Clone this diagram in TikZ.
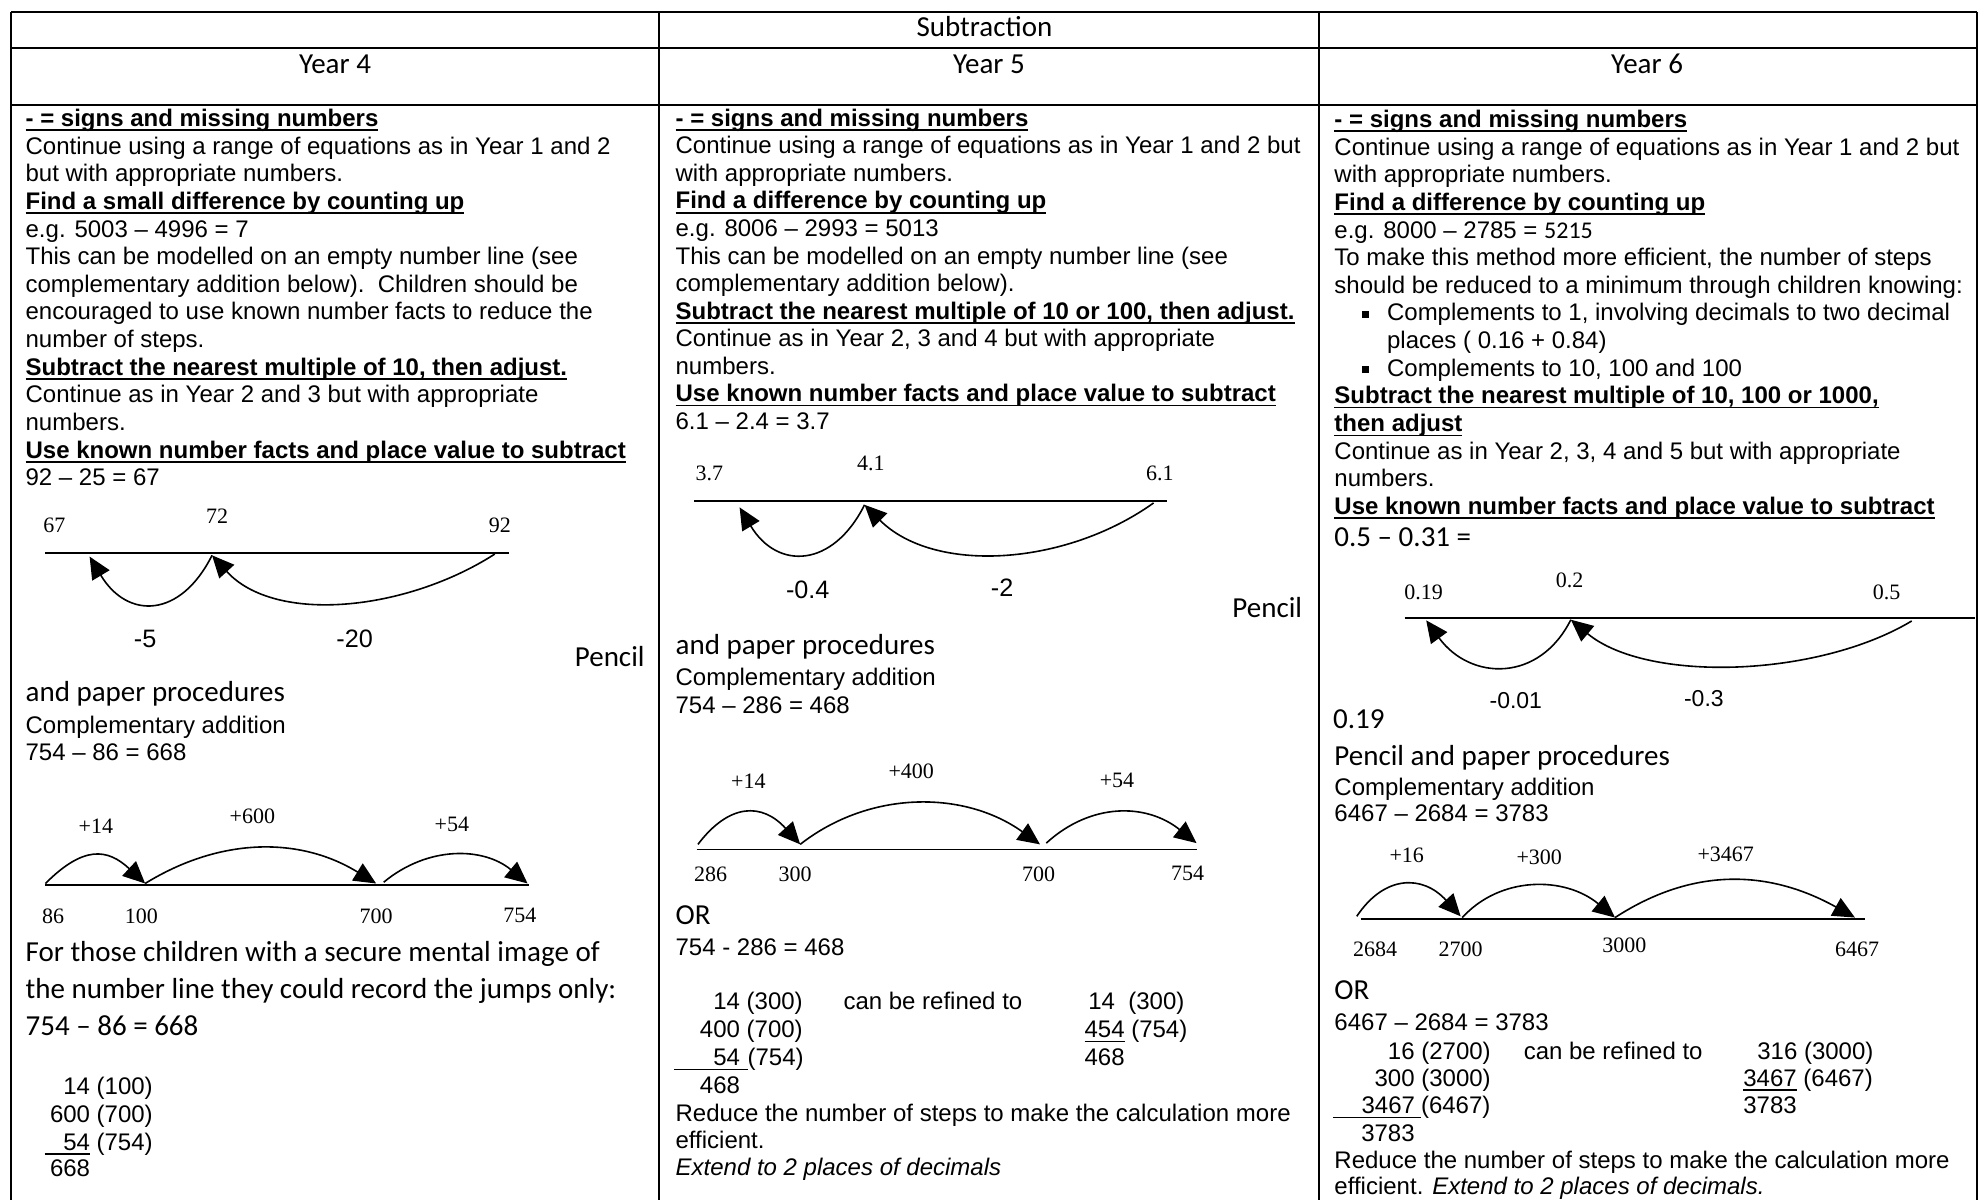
\documentclass[tikz,border=0pt]{standalone}
\usepackage{fontspec}
\setmainfont{Liberation Sans}
\newfontfamily\calfont{Carlito}
\newfontfamily\tmsfont{Liberation Serif}
\usetikzlibrary{arrows.meta}
\newsavebox{\hdbox}
\newcommand{\hd}[1]{\sbox{\hdbox}{\bfseries #1}\rlap{\rule[-2.3pt]{\wd\hdbox}{0.8pt}}\usebox{\hdbox}}
\newcommand{\ul}[1]{\sbox{\hdbox}{#1}\rlap{\rule[-2.3pt]{\wd\hdbox}{0.7pt}}\usebox{\hdbox}}
\newcommand{\sqbul}{\makebox[12.4pt][l]{\rule[1.6pt]{3.6pt}{3.6pt}}}
\tikzset{
  tabline/.style={line width=1pt},
  nline/.style={line width=0.8pt},
  hop/.style={line width=0.8pt, -{Triangle[length=11pt,width=10pt]}},
  txt/.style={inner sep=0pt, anchor=mid west, font=\fontsize{12}{14}\selectfont},
  cal/.style={inner sep=0pt, anchor=mid west, font=\calfont\fontsize{14.5}{17}\selectfont},
  head/.style={inner sep=0pt, anchor=mid, font=\calfont\fontsize{14.5}{17}\selectfont},
  num/.style={inner sep=0pt, font=\tmsfont\fontsize{11}{13}\selectfont},
  jmp/.style={inner sep=0pt, font=\fontsize{12.6}{14}\selectfont},
  jmpsm/.style={inner sep=0pt, font=\fontsize{11.5}{13}\selectfont}
}
\begin{document}
\begin{tikzpicture}[x=0.631pt,y=-0.631pt]
\useasboundingbox (0,0) rectangle (1568,950.8);
% table
\draw[tabline] (9,9.5)--(1566.5,9.5) (9,38)--(1566.5,38) (9,83)--(1566.5,83);
\foreach \x in {9,522,1045,1566.5}
  \draw[tabline] (\x,9.5)--(\x,950.8);
\node[head] (title) at (780,25) {Subtraction};
\node[head] (hiv) at (265.5,54) {Year 4};
\node[head] (hv) at (783.5,54) {Year 5};
\node[head] (hvi) at (1305,54) {Year 6};

% Year 4
\foreach \t [count=\i from 0] in {
  {\hd{- = signs and missing numbers}},
  {Continue using a range of equations as in Year 1 and 2},
  {but with appropriate numbers.},
  {\hd{Find a small difference by counting up}},
  {e.g. 5003 – 4996 = 7},
  {This can be modelled on an empty number line (see},
  {complementary addition below).\ \ Children should be},
  {encouraged to use known number facts to reduce the},
  {number of steps.},
  {\hd{Subtract the nearest multiple of 10, then adjust.}},
  {Continue as in Year 2 and 3 but with appropriate},
  {numbers.},
  {\hd{Use known number facts and place value to subtract}},
  {92 – 25 = 67}}
  \node[txt] (ivT\i) at (20,{96+21.9*\i}) {\t};
\coordinate (ivAl) at (36,438);
\coordinate (ivAr) at (403,438);
\draw[nline] (ivAl)--(ivAr);
\coordinate (ivA92) at (392,439);
\coordinate (ivA72) at (168,440);
\coordinate (ivA67) at (71,441);
\draw[hop] (ivA92) .. controls +(-70,45) and +(50,55) .. (ivA72);
\draw[hop] (ivA72) .. controls +(-25,50) and +(30,50) .. (ivA67);
\node[num] (ivL67) at (43,416) {67};
\node[num] (ivL72) at (172,409) {72};
\node[num] (ivL92) at (396,416) {92};
\node[jmp] (ivM5) at (115,506) {-5};
\node[jmp] (ivM20) at (281,506) {-20};
\node[cal, anchor=mid east] (ivPen) at (511,524) {Pencil};
\node[cal] (ivPap) at (20,552) {and paper procedures};
\node[txt] (ivComp) at (20,577) {Complementary addition};
\node[txt] (ivEq) at (20,598) {754 – 86 = 668};
\coordinate (ivBl) at (36,701);
\coordinate (ivBr) at (419,701);
\draw[nline] (ivBl)--(ivBr);
\coordinate (ivB86) at (36,700);
\coordinate (ivB100) at (115,700);
\coordinate (ivB700) at (298,700);
\coordinate (ivB700s) at (304,699);
\coordinate (ivB754) at (418,700);
\draw[hop] (ivB86) .. controls +(30,-30) and +(-30,-28) .. (ivB100);
\draw[hop] (ivB100) .. controls +(60,-37) and +(-60,-37) .. (ivB700);
\draw[hop] (ivB700s) .. controls +(35,-29) and +(-35,-29) .. (ivB754);
\node[num] (ivP14) at (76,655) {+14};
\node[num] (ivP600) at (200,647) {+600};
\node[num] (ivP54) at (358,653) {+54};
\node[num] (ivL86) at (42,726) {86};
\node[num] (ivL100) at (112,726) {100};
\node[num] (ivL700) at (298,726) {700};
\node[num] (ivL754) at (412,725) {754};
\node[cal] (ivFor1) at (20,758) {For those children with a secure mental image of};
\node[cal] (ivFor2) at (20,787) {the number line they could record the jumps only:};
\node[cal] (ivFor3) at (20,816) {754 – 86 = 668};
\node[txt] (ivJ1) at (20,863) {\makebox[32.2pt][r]{14} (100)};
\node[txt] (ivJ2) at (20,885) {\makebox[32.2pt][r]{600} (700)};
\node[txt] (ivJ3) at (35,907) {\ul{\makebox[22.7pt][r]{54}} (754)};
\node[txt] (ivJ4) at (20,928) {\makebox[32.2pt][r]{668}};

% Year 5
\foreach \t [count=\i from 0] in {
  {\hd{- = signs and missing numbers}},
  {Continue using a range of equations as in Year 1 and 2 but},
  {with appropriate numbers.},
  {\hd{Find a difference by counting up}},
  {e.g. 8006 – 2993 = 5013},
  {This can be modelled on an empty number line (see},
  {complementary addition below).},
  {\hd{Subtract the nearest multiple of 10 or 100, then adjust.}},
  {Continue as in Year 2, 3 and 4 but with appropriate},
  {numbers.},
  {\hd{Use known number facts and place value to subtract}},
  {6.1 – 2.4 = 3.7}}
  \node[txt] (vT\i) at (535,{96+21.8*\i}) {\t};
\coordinate (vAl) at (550,397);
\coordinate (vAr) at (925,397);
\draw[nline] (vAl)--(vAr);
\coordinate (vA61) at (914,398.5);
\coordinate (vA41) at (685,400);
\coordinate (vA37) at (586,402);
\draw[hop] (vA61) .. controls +(-70,50) and +(55,55) .. (vA41);
\draw[hop] (vA41) .. controls +(-25,50) and +(30,50) .. (vA37);
\node[num] (vL37) at (562,375) {3.7};
\node[num] (vL41) at (690,367) {4.1};
\node[num] (vL61) at (919,375) {6.1};
\node[jmp] (vM04) at (640,467) {-0.4};
\node[jmp] (vM2) at (794,466) {-2};
\node[cal, anchor=mid east] (vPen) at (1032,485) {Pencil};
\node[cal] (vPap) at (535,514) {and paper procedures};
\node[txt] (vComp) at (535,539) {Complementary addition};
\node[txt] (vEq) at (535,561) {754 – 286 = 468};
\coordinate (vBl) at (552,673);
\coordinate (vBr) at (948.5,673);
\draw[nline] (vBl)--(vBr);
\coordinate (vB286) at (553,669);
\coordinate (vB300) at (634,669);
\coordinate (vB700) at (824,669);
\coordinate (vB700s) at (829,668);
\coordinate (vB754) at (948,668);
\draw[hop] (vB286) .. controls +(25,-33) and +(-30,-33) .. (vB300);
\draw[hop] (vB300) .. controls +(55,-43) and +(-60,-43) .. (vB700);
\draw[hop] (vB700s) .. controls +(35,-32) and +(-40,-32) .. (vB754);
\node[num] (vP14) at (593,619) {+14};
\node[num] (vP400) at (722,611) {+400};
\node[num] (vP54) at (885,618) {+54};
\node[num] (vL286) at (563,693) {286};
\node[num] (vL300) at (630,693) {300};
\node[num] (vL700) at (823,693) {700};
\node[num] (vL754) at (941,692) {754};
\node[cal] (vOr) at (535,728) {OR};
\node[txt] (vEq2) at (535,753) {754 - 286 = 468};
\node[txt] (vJ1) at (535,796) {\makebox[32.2pt][r]{14} (300)};
\node[txt] (vJ2) at (535,818) {\makebox[32.2pt][r]{400} (700)};
\node[txt] (vJ3) at (534,840) {\ul{\makebox[36.6pt][r]{54\hspace{3.8pt}}}(754)};
\node[txt] (vJ4) at (535,862) {\makebox[32.2pt][r]{468}};
\node[txt] (vRef) at (668,796) {can be refined to};
\node[txt] (vK1) at (862,796) {14\ \ (300)};
\node[txt] (vK2) at (859,818) {\ul{454} (754)};
\node[txt] (vK3) at (859,840) {468};
\node[txt] (vRed1) at (535,884) {Reduce the number of steps to make the calculation more};
\node[txt] (vRed2) at (535,906) {efficient.};
\node[txt] (vExt) at (535,927) {\textit{Extend to 2 places of decimals}};

% Year 6
\foreach \t [count=\i from 0] in {
  {\hd{- = signs and missing numbers}},
  {Continue using a range of equations as in Year 1 and 2 but},
  {with appropriate numbers.},
  {\hd{Find a difference by counting up}},
  {e.g. 8000 – 2785 = {\calfont 5215}},
  {To make this method more efficient, the number of steps},
  {should be reduced to a minimum through children knowing:},
  {\hspace{13.9pt}\sqbul Complements to 1, involving decimals to two decimal},
  {\hspace{26.3pt}places ( 0.16 + 0.84)},
  {\hspace{13.9pt}\sqbul Complements to 10, 100 and 100},
  {\hd{Subtract the nearest multiple of 10, 100 or 1000,}},
  {\hd{then adjust}},
  {Continue as in Year 2, 3, 4 and 5 but with appropriate},
  {numbers.},
  {\hd{Use known number facts and place value to subtract}}}
  \node[txt] (viT\i) at (1057,{96.8+21.9*\i}) {\t};
\node[cal] (viEq0) at (1057,429) {0.5 – 0.31 =};
\coordinate (viAl) at (1113,489.5);
\coordinate (viAr) at (1565,489.5);
\draw[nline] (viAl)--(viAr);
\coordinate (viA05) at (1514.7,492);
\coordinate (viA02) at (1244.6,491);
\coordinate (viA019) at (1130,491.5);
\draw[hop] (viA05) .. controls +(-75,45) and +(60,50) .. (viA02);
\draw[hop] (viA02) .. controls +(-25,50) and +(35,48) .. (viA019);
\node[num] (viL019) at (1128,469) {0.19};
\node[num] (viL02) at (1243.6,460) {0.2};
\node[num] (viL05) at (1494.7,469) {0.5};
\node[jmpsm] (viM001) at (1201,555) {-0.01};
\node[jmpsm] (viM03) at (1350,553.6) {-0.3};
\node[cal] (viAns) at (1056,573) {0.19};
\node[cal] (viPap) at (1057,602) {Pencil and paper procedures};
\node[txt] (viComp) at (1057,626) {Complementary addition};
\node[txt] (viEq) at (1057,647) {6467 – 2684 = 3783};
\coordinate (viBl) at (1078,728);
\coordinate (viBr) at (1478,728);
\draw[nline] (viBl)--(viBr);
\coordinate (viB2684) at (1075,726);
\coordinate (viB2700) at (1157.3,726);
\coordinate (viB2700s) at (1158.6,727);
\coordinate (viB3000) at (1279.6,727);
\coordinate (viB6467) at (1469.7,727);
\draw[hop] (viB2684) .. controls +(22,-33) and +(-30,-33) .. (viB2700);
\draw[hop] (viB2700s) .. controls +(30,-33) and +(-40,-33) .. (viB3000);
\draw[hop] (viB3000) .. controls +(60,-39) and +(-70,-39) .. (viB6467);
\node[num] (viP16) at (1114.6,678) {+16};
\node[num] (viP300) at (1219.6,679.5) {+300};
\node[num] (viP3467) at (1367.3,676.6) {+3467};
\node[num] (viL2684) at (1089.6,752.5) {2684};
\node[num] (viL2700) at (1157.3,752.5) {2700};
\node[num] (viL3000) at (1287,748.8) {3000};
\node[num] (viL6467) at (1471.4,752.5) {6467};
\node[cal] (viOr) at (1057,788) {OR};
\node[txt] (viEq2) at (1057,812) {6467 – 2684 = 3783};
\node[txt] (viJ1) at (1057,835) {\makebox[40.1pt][r]{16} (2700)};
\node[txt] (viJ2) at (1057,856.5) {\makebox[40.1pt][r]{300} (3000)};
\node[txt] (viJ3) at (1056,878) {\ul{\makebox[43.9pt][r]{3467\hspace{3pt}}}(6467)};
\node[txt] (viJ4) at (1057,900) {\makebox[40.1pt][r]{3783}};
\node[txt] (viRef) at (1207,835) {can be refined to};
\node[txt] (viK1) at (1381,835) {\makebox[27pt][r]{316} (3000)};
\node[txt] (viK2) at (1381,856.5) {\ul{3467} (6467)};
\node[txt] (viK3) at (1381,878) {3783};
\node[txt] (viRed1) at (1057,921.5) {Reduce the number of steps to make the calculation more};
\node[txt] (viRed2) at (1057,942.5) {efficient. \textit{Extend to 2 places of decimals.}};
\end{tikzpicture}
\end{document}
